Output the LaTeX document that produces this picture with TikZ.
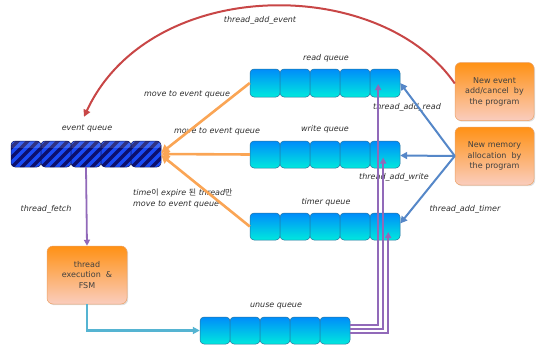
\documentclass[tikz,border=0pt]{standalone}
\usepackage{fontspec}
\setmainfont{DejaVu Sans}
\newfontfamily\krfont{Noto Sans CJK KR}
\usetikzlibrary{arrows.meta,shadows,calc}
\definecolor{qtop}{RGB}{0,140,250}
\definecolor{qbot}{RGB}{0,232,222}
\definecolor{qedge}{RGB}{40,115,155}
\definecolor{evfill}{RGB}{25,75,245}
\definecolor{evstripe}{RGB}{12,16,110}
\definecolor{evedge}{RGB}{10,20,90}
\definecolor{otop}{RGB}{255,145,20}
\definecolor{obot}{RGB}{250,205,190}
\definecolor{oedge}{RGB}{235,160,100}
\definecolor{redc}{RGB}{200,70,70}
\definecolor{orc}{RGB}{250,165,85}
\definecolor{bluc}{RGB}{85,135,200}
\definecolor{purc}{RGB}{145,105,185}
\definecolor{cyac}{RGB}{85,180,210}
\definecolor{txt}{RGB}{45,45,45}
\tikzset{
  qcell/.style={rounded corners=4pt, top color=qtop, bottom color=qbot, draw=qedge, line width=0.5pt},
  qanchor/.style={inner sep=0pt, minimum width=150pt},
  obox/.style={rounded corners=6pt, top color=otop, bottom color=obot, draw=oedge, line width=0.5pt,
    text=black!75, align=center, minimum width=79pt, minimum height=58pt, inner sep=1pt,
    font=\fontsize{8}{10.5}\selectfont,
    drop shadow={opacity=0.25, shadow xshift=1.2pt, shadow yshift=-1.2pt}},
  lbl/.style={font=\fontsize{8}{11}\selectfont\itshape, text=txt, inner sep=0pt},
  tip/.style={-{Triangle[length=7pt,width=7pt]}},
  redarr/.style={draw=redc, line width=2pt, tip},
  orarr/.style={draw=orc, line width=2.6pt, -{Triangle[length=8pt,width=9pt]}},
  bluarr/.style={draw=bluc, line width=2pt, tip},
  purarr/.style={draw=purc, line width=1.8pt, -{Triangle[length=6pt,width=6pt]}},
  cyarr/.style={draw=cyac, line width=2.4pt, tip},
}
\newcommand{\drawcyq}[4]{%
  \foreach \i in {0,...,4}{\path[qcell] ({#2+\i*30},#3) rectangle ++(30,#4);}
  \node[qanchor, minimum height=#4pt] (#1) at ({#2+75},{#3+#4/2}) {};}
\begin{document}
\begin{tikzpicture}[x=1pt,y=-1pt]
\useasboundingbox (0,0) rectangle (540,345);
% event queue
\foreach \i in {0,...,4}{
  \begin{scope}
    \clip[rounded corners=4pt] ({11+\i*30},141) rectangle ++(30,26);
    \fill[evfill] ({11+\i*30},141) rectangle ++(30,26);
    \foreach \k in {-30,-20,...,40}{
      \draw[evstripe, line width=3.2pt] ({11+\i*30+\k},168) -- ++(28,-28);}
    \fill[white, opacity=0.15] ({11+\i*30},141) rectangle ++(30,7);
  \end{scope}
  \draw[rounded corners=4pt, evedge, line width=0.5pt] ({11+\i*30},141) rectangle ++(30,26);
}
\node[qanchor, minimum height=26pt] (evq) at (86,154) {};
% cyan queues
\drawcyq{readq}{250}{69}{28}
\drawcyq{writeq}{250}{141}{27}
\drawcyq{timerq}{250}{213}{27}
\drawcyq{unuseq}{200}{317}{27}
% boxes
\node[obox] (newev) at (494.5,91.5) {New event\\add/cancel\ \ by\\the program};
\node[obox] (newmem) at (494.5,156) {New memory\\allocation\ \ by\\the program};
\node[obox, minimum width=80pt] (exec) at (87,275) {thread\\execution\ \ \&\\FSM};
% labels
\node[lbl] (lev) at (87,129) {event queue};
\node[lbl] (lrd) at (326,58) {read queue};
\node[lbl] (lwr) at (325,129.5) {write queue};
\node[lbl] (ltm) at (326,202) {timer queue};
\node[lbl] (lun) at (276,306) {unuse queue};
\node[lbl] (ladd) at (260,20) {thread\_add\_event};
\node[lbl] (lmv1) at (187,95) {move to event queue};
\node[lbl] (lmv2) at (217,132) {move to event queue};
\node[lbl, align=left, anchor=west] (lmv3) at (133,198.5)
  {time{\upshape\krfont 이} expire {\upshape\krfont 된} thread{\upshape\krfont 만}\\move to event queue};
\node[lbl] (lfetch) at (46,209) {thread\_fetch};
\node[lbl] (lard) at (407,107) {thread\_add\_read};
\node[lbl] (lawr) at (394,177) {thread\_add\_write};
\node[lbl] (latm) at (465,209) {thread\_add\_timer};
% connectors
\draw[redarr] ([yshift=8pt]newev.west) .. controls (380,-25) and (150,-25) .. ([xshift=-2pt,yshift=24pt]evq.north);
\draw[orarr] (readq.west) -- ([yshift=1pt]evq.east);
\draw[orarr] (writeq.west) -- (evq.east);
\draw[orarr] (timerq.west) -- ([yshift=-1pt]evq.east);
\draw[bluarr] (newmem.west) -- (readq.east);
\draw[bluarr] (newmem.west) -- ([yshift=-1pt]writeq.east);
\draw[bluarr] (newmem.west) -- ([yshift=3pt]timerq.east);
\draw[purarr] (evq.south) -- (exec.north);
\draw[cyarr] (exec.south) |- (unuseq.west);
\draw[purarr] ([yshift=5.5pt]unuseq.east) -| ([xshift=-22pt,yshift=-1pt]readq.east);
\draw[purarr] ([yshift=1.5pt]unuseq.east) -| ([xshift=-17pt,yshift=-3pt]writeq.east);
\draw[purarr] ([yshift=-2.5pt]unuseq.east) -| ([xshift=-12pt,yshift=-5.5pt]timerq.east);
\end{tikzpicture}
\end{document}
